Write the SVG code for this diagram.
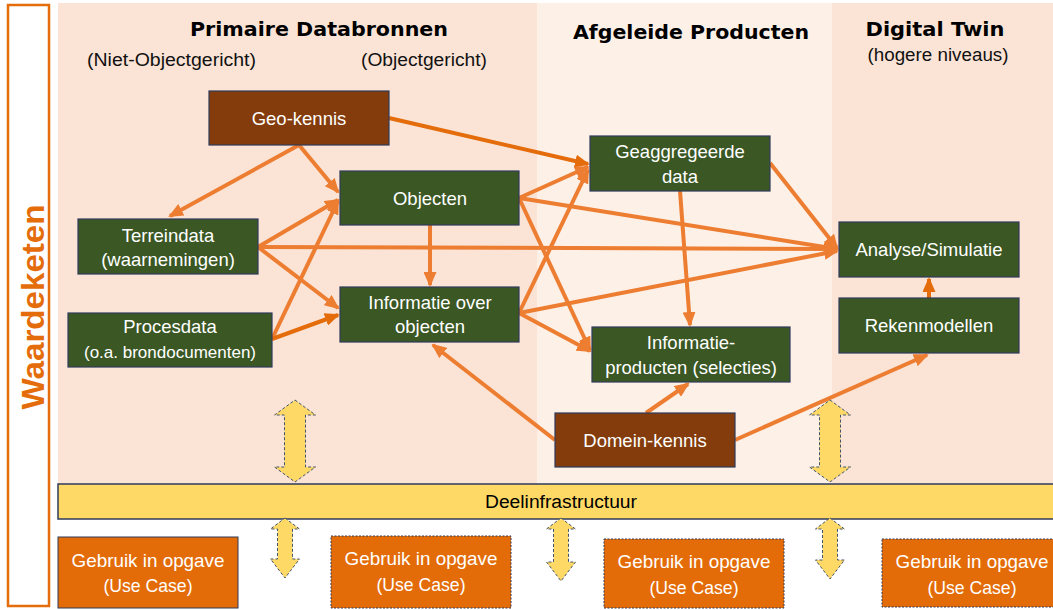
<svg xmlns="http://www.w3.org/2000/svg" width="1053" height="610" viewBox="0 0 1053 610">
<defs>
<style>
.panelA{fill:#FBE4D6}
.panelB{fill:#FDF0E7}
.node rect{stroke:#2F3B5B;stroke-width:1.2}
.green{fill:#3A5724}
.brown{fill:#843C0C}
.nt{font-family:"Liberation Sans",Arial,sans-serif;font-size:18.5px;fill:#FFFFFF;text-anchor:middle}
.nts{font-size:17px}
.title{font-family:"DejaVu Sans",Verdana,sans-serif;font-weight:bold;font-size:19px;fill:#000;text-anchor:middle}
.sub{font-family:"Liberation Sans",Arial,sans-serif;font-size:17.5px;fill:#111;text-anchor:middle}
.con line{stroke:#ED7D31;stroke-width:4;fill:none}
.con line.dk{stroke:#E46C0A}
.uc rect{fill:#E36C09;stroke:#2F3B5B;stroke-width:1;stroke-dasharray:2 1.5}
.uct{font-family:"Liberation Sans",Arial,sans-serif;font-size:19px;fill:#FFFFFF;text-anchor:middle}
.dbl{fill:#FFD966;stroke:#44546A;stroke-width:1;stroke-dasharray:3 2}
</style>
<marker id="ah" viewBox="0 0 15 13" refX="13" refY="6.5" markerWidth="15" markerHeight="13" markerUnits="userSpaceOnUse" orient="auto">
<path d="M0,0 L15,6.5 L0,13 z" fill="#ED7D31"/>
</marker>
<marker id="ahd" viewBox="0 0 15 13" refX="13" refY="6.5" markerWidth="15" markerHeight="13" markerUnits="userSpaceOnUse" orient="auto">
<path d="M0,0 L15,6.5 L0,13 z" fill="#E46C0A"/>
</marker>
</defs>

<rect width="1053" height="610" fill="#FFFFFF"/>

<g id="panels">
<rect class="panelA" x="58" y="3" width="479" height="481"/>
<rect class="panelB" x="537" y="3" width="295" height="481"/>
<rect class="panelA" x="832" y="3" width="221" height="481"/>
</g>

<g id="waardeketen">
<rect x="8" y="5" width="41" height="601" fill="#FFFFFF" stroke="#E46C0A" stroke-width="2.5"/>
<text transform="translate(44,307) rotate(-90)" font-family="Liberation Sans,Arial,sans-serif" font-weight="bold" font-size="32" fill="#E46C0A" text-anchor="middle" textLength="205" lengthAdjust="spacingAndGlyphs">Waardeketen</text>
</g>

<g id="titles">
<text class="title" x="319" y="36" textLength="258" lengthAdjust="spacingAndGlyphs">Primaire Databronnen</text>
<text class="title" x="691" y="39" textLength="236" lengthAdjust="spacingAndGlyphs">Afgeleide Producten</text>
<text class="title" x="935" y="36" textLength="139" lengthAdjust="spacingAndGlyphs">Digital Twin</text>
<text class="sub" x="938" y="61" textLength="141" lengthAdjust="spacingAndGlyphs">(hogere niveaus)</text>
<text class="sub" x="171.5" y="66" textLength="169" lengthAdjust="spacingAndGlyphs">(Niet-Objectgericht)</text>
<text class="sub" x="424" y="66" textLength="126" lengthAdjust="spacingAndGlyphs">(Objectgericht)</text>
</g>

<g id="connectors" class="con">
<line x1="299" y1="145" x2="170" y2="216" marker-end="url(#ah)"/>
<line x1="299" y1="145" x2="338" y2="192" marker-end="url(#ah)"/>
<line class="dk" x1="389" y1="118" x2="588" y2="164" marker-end="url(#ahd)"/>
<line x1="258" y1="247" x2="338" y2="200" marker-end="url(#ah)"/>
<line x1="258" y1="247" x2="837" y2="249" marker-end="url(#ah)"/>
<line x1="258" y1="247" x2="338" y2="308" marker-end="url(#ah)"/>
<line x1="272" y1="339" x2="338" y2="201" marker-end="url(#ah)"/>
<line class="dk" x1="272" y1="339" x2="338" y2="315" marker-end="url(#ahd)"/>
<line x1="430" y1="225" x2="430" y2="285" marker-end="url(#ah)"/>
<line x1="519" y1="198" x2="588" y2="167" marker-end="url(#ah)"/>
<line x1="519" y1="198" x2="837" y2="249" marker-end="url(#ah)"/>
<line x1="519" y1="198" x2="590" y2="350" marker-end="url(#ah)"/>
<line x1="519" y1="313" x2="588" y2="170" marker-end="url(#ah)"/>
<line x1="519" y1="313" x2="837" y2="251" marker-end="url(#ah)"/>
<line x1="519" y1="313" x2="590" y2="351" marker-end="url(#ah)"/>
<line x1="770" y1="163" x2="837" y2="248" marker-end="url(#ah)"/>
<line x1="680" y1="191" x2="690" y2="325" marker-end="url(#ah)"/>
<line class="dk" x1="929" y1="298" x2="929" y2="279" marker-end="url(#ahd)"/>
<line x1="555" y1="440" x2="433" y2="345" marker-end="url(#ah)"/>
<line x1="646" y1="413" x2="688" y2="384" marker-end="url(#ah)"/>
<line x1="735" y1="440" x2="927" y2="355" marker-end="url(#ah)"/>
</g>

<g id="geo-kennis" class="node">
<rect class="brown" x="209" y="91" width="180" height="54"/>
<text class="nt" x="299" y="125">Geo-kennis</text>
</g>
<g id="objecten" class="node">
<rect class="green" x="340" y="171" width="179" height="54"/>
<text class="nt" x="430" y="205">Objecten</text>
</g>
<g id="informatie-over-objecten" class="node">
<rect class="green" x="340" y="287" width="179" height="55"/>
<text class="nt" x="430" y="309">Informatie over</text>
<text class="nt" x="430" y="333">objecten</text>
</g>
<g id="terreindata" class="node">
<rect class="green" x="78" y="219" width="180" height="55"/>
<text class="nt" x="168" y="242">Terreindata</text>
<text class="nt" x="168" y="266">(waarnemingen)</text>
</g>
<g id="procesdata" class="node">
<rect class="green" x="68" y="313" width="204" height="54"/>
<text class="nt" x="170" y="333">Procesdata</text>
<text class="nt nts" x="170" y="358">(o.a. brondocumenten)</text>
</g>
<g id="geaggregeerde-data" class="node">
<rect class="green" x="590" y="136" width="180" height="55"/>
<text class="nt" x="680" y="158">Geaggregeerde</text>
<text class="nt" x="680" y="183">data</text>
</g>
<g id="informatie-producten" class="node">
<rect class="green" x="592" y="327" width="198" height="55"/>
<text class="nt" x="691" y="349">Informatie-</text>
<text class="nt" x="691" y="374">producten (selecties)</text>
</g>
<g id="analyse-simulatie" class="node">
<rect class="green" x="839" y="222" width="180" height="55"/>
<text class="nt" x="929" y="256">Analyse/Simulatie</text>
</g>
<g id="rekenmodellen" class="node">
<rect class="green" x="839" y="298" width="180" height="55"/>
<text class="nt" x="929" y="332">Rekenmodellen</text>
</g>
<g id="domein-kennis" class="node">
<rect class="brown" x="555" y="413" width="180" height="54"/>
<text class="nt" x="645" y="447">Domein-kennis</text>
</g>

<g id="upper-arrows">
<path class="dbl" d="M295,400 L315.5,415 L305.5,415 L305.5,467 L315.5,467 L295,482 L274.5,467 L284.5,467 L284.5,415 L274.5,415 Z"/>
<path class="dbl" d="M830,400 L850.5,415 L840.5,415 L840.5,467 L850.5,467 L830,482 L809.5,467 L819.5,467 L819.5,415 L809.5,415 Z"/>
</g>

<g id="deelinfrastructuur">
<rect x="58" y="484" width="1000" height="35" fill="#FFD966" stroke="#2F3B5B" stroke-width="1.5"/>
<text x="561" y="508" font-family="Liberation Sans,Arial,sans-serif" font-size="18" fill="#000" text-anchor="middle" textLength="152" lengthAdjust="spacingAndGlyphs">Deelinfrastructuur</text>
</g>

<g id="lower-arrows">
<path class="dbl" d="M285,518 L299.5,529 L292.5,529 L292.5,559 L299.5,559 L285,578 L270.5,559 L277.5,559 L277.5,529 L270.5,529 Z"/>
<path class="dbl" d="M561,518 L575.5,529 L568.5,529 L568.5,562 L575.5,562 L561,581 L546.5,562 L553.5,562 L553.5,529 L546.5,529 Z"/>
<path class="dbl" d="M830,518 L844.5,529 L837.5,529 L837.5,560 L844.5,560 L830,579 L815.5,560 L822.5,560 L822.5,529 L815.5,529 Z"/>
</g>

<g id="usecase-1" class="uc">
<rect x="58" y="537" width="180" height="71" style="stroke-dasharray:none"/>
<text class="uct" x="148" y="567" textLength="153" lengthAdjust="spacingAndGlyphs">Gebruik in opgave</text>
<text class="uct" x="148" y="592" textLength="89" lengthAdjust="spacingAndGlyphs">(Use Case)</text>
</g>
<g id="usecase-2" class="uc">
<rect x="331" y="536" width="180" height="72"/>
<text class="uct" x="421" y="565" textLength="153" lengthAdjust="spacingAndGlyphs">Gebruik in opgave</text>
<text class="uct" x="421" y="591" textLength="89" lengthAdjust="spacingAndGlyphs">(Use Case)</text>
</g>
<g id="usecase-3" class="uc">
<rect x="604" y="539" width="180" height="69"/>
<text class="uct" x="694" y="568" textLength="153" lengthAdjust="spacingAndGlyphs">Gebruik in opgave</text>
<text class="uct" x="694" y="594" textLength="89" lengthAdjust="spacingAndGlyphs">(Use Case)</text>
</g>
<g id="usecase-4" class="uc">
<rect x="882" y="539" width="180" height="68"/>
<text class="uct" x="972" y="568" textLength="153" lengthAdjust="spacingAndGlyphs">Gebruik in opgave</text>
<text class="uct" x="972" y="594" textLength="89" lengthAdjust="spacingAndGlyphs">(Use Case)</text>
</g>
</svg>
